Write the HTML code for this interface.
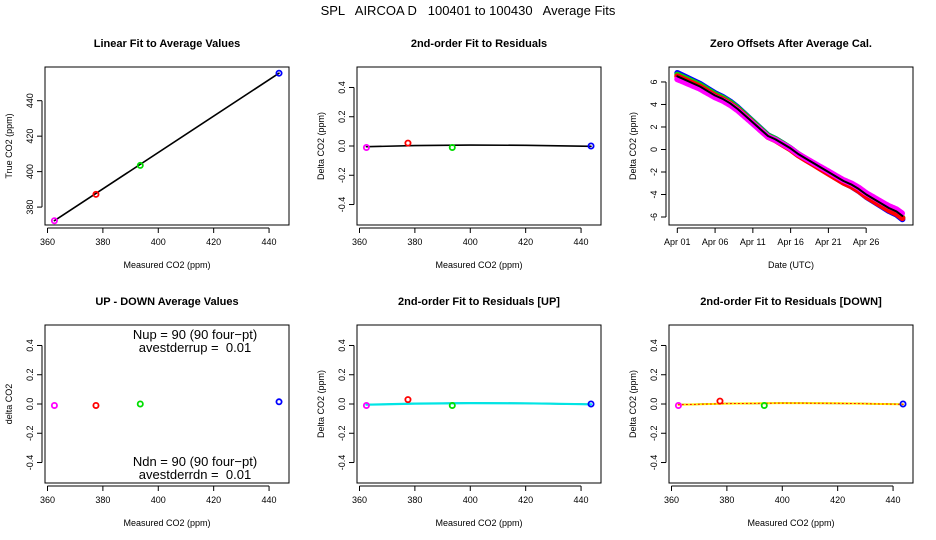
<!DOCTYPE html>
<html><head><meta charset="utf-8"><style>
html,body{margin:0;padding:0;background:#fff;}
svg{display:block;font-family:"Liberation Sans",Arial,sans-serif;}
text{white-space:pre;}
</style></head><body>
<svg id="c" width="936" height="540" viewBox="0 0 936 540">
<text x="468" y="15" text-anchor="middle" font-size="13">SPL   AIRCOA D   100401 to 100430   Average Fits</text>
</svg>
<script>
const co2Measured = [362.5, 377.5, 393.5, 443.6];
const co2True = [372.3, 387.2, 403.5, 455.5];
const residAll = [-0.01, 0.02, -0.01, 0.0];
const residUp = [-0.01, 0.03, -0.01, 0.0];
const residDown = [-0.01, 0.02, -0.01, 0.0];
const upDown = [-0.01, -0.01, 0.0, 0.015];
const pointColors = ['#ff00ff', '#ff0000', '#00dd00', '#0000ff'];
const fitX = [362.5, 380, 400, 420, 443.6];
const fitResid = [-0.005, 0.003, 0.006, 0.005, -0.002];
const co2Ticks = [360, 380, 400, 420, 440];
const trueTicks = [380, 400, 420, 440];
const residTicks = [-0.4, -0.2, 0.0, 0.2, 0.4];
const zeroTicks = [-6, -4, -2, 0, 2, 4, 6];
const dateTicks = [0, 5, 10, 15, 20, 25];
const dateLabels = ['Apr 01', 'Apr 06', 'Apr 11', 'Apr 16', 'Apr 21', 'Apr 26'];
const zeroDays = [0, 1, 2, 3, 4, 5, 6, 7, 8, 9, 10, 11, 12, 13, 14, 15, 16, 17, 18, 19, 20, 21, 22, 23, 24, 25, 26, 27, 28, 29, 29.8];
const zeroOffsets = [6.5, 6.2, 5.9, 5.6, 5.2, 4.8, 4.5, 4.1, 3.6, 3.0, 2.4, 1.8, 1.2, 0.9, 0.5, 0.1, -0.4, -0.8, -1.2, -1.6, -2.0, -2.4, -2.8, -3.1, -3.5, -4.0, -4.4, -4.8, -5.2, -5.5, -5.9];
const seriesNames = ['blue', 'green', 'red', 'magenta', 'black'];
const seriesColors = ['#0000ff', '#00dd00', '#ff0000', '#ff00ff', '#000000'];
const seriesStartShift = [0.3, 0.15, 0.0, -0.25, 0];
const seriesEndShift = [-0.3, -0.15, -0.2, 0.2, 0];

const NS = 'http://www.w3.org/2000/svg';
const svg = document.getElementById('c');
function mk(tag, attrs, parent) {
  const e = document.createElementNS(NS, tag);
  for (const k in attrs) e.setAttribute(k, attrs[k]);
  (parent || svg).appendChild(e);
  return e;
}
function panel(name, L, T, W, H, xmin, xmax, ymin, ymax, title, xlab, ylab) {
  const g = mk('g', {});
  
  
  const sx = v => L + (v - xmin) / (xmax - xmin) * W;
  const sy = v => T + H - (v - ymin) / (ymax - ymin) * H;
  const box = mk('rect', {x: L, y: T, width: W, height: H, fill: 'none', stroke: '#000', 'stroke-width': 1}, g);
  
  
  const t = mk('text', {x: L + W / 2, y: T - 20, 'text-anchor': 'middle', 'font-size': 11, 'font-weight': 'bold'}, g);
  t.textContent = title;
  
  
  const xl = mk('text', {x: L + W / 2, y: T + H + 43, 'text-anchor': 'middle', 'font-size': 9}, g);
  xl.textContent = xlab;
  
  
  const yl = mk('text', {x: 0, y: 0, 'text-anchor': 'middle', 'font-size': 9, transform: 'translate(' + (L - 33) + ',' + (T + H / 2) + ') rotate(-90)'}, g);
  yl.textContent = ylab;
  
  
  return {g, sx, sy, L, T, W, H};
}
function xaxis(p, ticks, labels, name) {
  const y0 = p.T + p.H + 3;
  const a = mk('g', {}, p.g);
  
  
  mk('line', {x1: p.sx(ticks[0]), x2: p.sx(ticks[ticks.length - 1]), y1: y0, y2: y0, stroke: '#000'}, a);
  ticks.forEach((v, i) => {
    mk('line', {x1: p.sx(v), x2: p.sx(v), y1: y0, y2: y0 + 5, stroke: '#000'}, a);
    const t = mk('text', {x: p.sx(v), y: y0 + 17, 'text-anchor': 'middle', 'font-size': 9}, a);
    t.textContent = labels ? labels[i] : String(v);
    
    
  });
}
function yaxis(p, ticks, fmt, name) {
  const x0 = p.L - 3;
  const a = mk('g', {}, p.g);
  
  
  mk('line', {x1: x0, x2: x0, y1: p.sy(ticks[0]), y2: p.sy(ticks[ticks.length - 1]), stroke: '#000'}, a);
  ticks.forEach(v => {
    mk('line', {x1: x0, x2: x0 - 5, y1: p.sy(v), y2: p.sy(v), stroke: '#000'}, a);
    const t = mk('text', {x: 0, y: 0, 'text-anchor': 'middle', 'font-size': 9, transform: 'translate(' + (x0 - 9) + ',' + p.sy(v) + ') rotate(-90)'}, a);
    t.textContent = fmt(v);
    
    
  });
}
function points(p, xs, ys, name) {
  xs.forEach((x, i) => {
    const c = mk('circle', {cx: p.sx(x), cy: p.sy(ys[i]), r: 2.6, fill: 'none', stroke: pointColors[i], 'stroke-width': 1.8}, p.g);
    
    
  });
}
function line(p, xs, ys, color, w, name, dash) {
  const d = xs.map((x, i) => (i ? 'L' : 'M') + p.sx(x).toFixed(1) + ',' + p.sy(ys[i]).toFixed(1)).join('');
  const a = {d: d, fill: 'none', stroke: color, 'stroke-width': w, 'stroke-linejoin': 'round', 'stroke-linecap': 'round'};
  if (dash) a['stroke-dasharray'] = dash;
  const e = mk('path', a, p.g);
  
  
}
const f1 = v => String(v);
const f2 = v => v.toFixed(1);
const XMIN = 359.1, XMAX = 447.2;
const cols = [45, 357, 669];

// Panel 1
let p = panel('linear-fit-panel', cols[0], 67, 244, 158, XMIN, XMAX, 369.9, 459, 'Linear Fit to Average Values', 'Measured CO2 (ppm)', 'True CO2 (ppm)');
xaxis(p, co2Ticks, null, 'x-axis'); yaxis(p, trueTicks, f1, 'y-axis');
line(p, [co2Measured[0], co2Measured[3]], [co2True[0], co2True[3]], '#000', 1.6, 'linear-fit-line');
points(p, co2Measured, co2True, 'calibration');

// Panel 2
p = panel('residual-fit-panel', cols[1], 67, 244, 158, XMIN, XMAX, -0.54, 0.54, '2nd-order Fit to Residuals', 'Measured CO2 (ppm)', 'Delta CO2 (ppm)');
xaxis(p, co2Ticks, null, 'x-axis'); yaxis(p, residTicks, f2, 'y-axis');
line(p, fitX, fitResid, '#000', 1.6, 'residual-fit-line');
points(p, co2Measured, residAll, 'residual');

// Panel 3
p = panel('zero-offsets-panel', cols[2], 67, 244, 158, -1.1, 31.2, -6.71, 7.33, 'Zero Offsets After Average Cal.', 'Date (UTC)', 'Delta CO2 (ppm)');
xaxis(p, dateTicks, dateLabels, 'date-axis'); yaxis(p, zeroTicks, f1, 'y-axis');
seriesNames.forEach((n, s) => {
  const n1 = zeroDays.length - 1;
  const ys = zeroOffsets.map((v, i) => v + seriesStartShift[s] * (1 - i / n1) + seriesEndShift[s] * (i / n1));
  line(p, zeroDays, ys, seriesColors[s], s === 4 ? 2 : 6, 'zero-offset-' + n + '-series', s === 3 ? '3 1' : null);
});

// Panel 4
p = panel('up-down-panel', cols[0], 325, 244, 158, XMIN, XMAX, -0.54, 0.54, 'UP - DOWN Average Values', 'Measured CO2 (ppm)', 'delta CO2');
xaxis(p, co2Ticks, null, 'x-axis'); yaxis(p, residTicks, f2, 'y-axis');
points(p, co2Measured, upDown, 'up-down');
[['Nup = 90 (90 four\u2212pt)', 339], ['avestderrup =  0.01', 352], ['Ndn = 90 (90 four\u2212pt)', 466], ['avestderrdn =  0.01', 479]].forEach((a, i) => {
  const t = mk('text', {x: 195, y: a[1], 'text-anchor': 'middle', 'font-size': 13}, p.g);
  t.textContent = a[0];
  
  
});

// Panel 5
p = panel('residual-up-panel', cols[1], 325, 244, 158, XMIN, XMAX, -0.54, 0.54, '2nd-order Fit to Residuals [UP]', 'Measured CO2 (ppm)', 'Delta CO2 (ppm)');
xaxis(p, co2Ticks, null, 'x-axis'); yaxis(p, residTicks, f2, 'y-axis');
line(p, fitX, fitResid, '#000', 1.6, 'residual-fit-line');
line(p, fitX, fitResid, '#00e5e5', 2.2, 'up-fit-line');
points(p, co2Measured, residUp, 'residual-up');

// Panel 6
p = panel('residual-down-panel', cols[2], 325, 244, 158, XMIN, XMAX, -0.54, 0.54, '2nd-order Fit to Residuals [DOWN]', 'Measured CO2 (ppm)', 'Delta CO2 (ppm)');
xaxis(p, co2Ticks, null, 'x-axis'); yaxis(p, residTicks, f2, 'y-axis');
line(p, fitX, fitResid, '#000', 1.6, 'residual-fit-line');
line(p, fitX, fitResid, '#ffee00', 2, 'down-fit-line');
line(p, fitX, fitResid, '#ff0000', 1, 'down-fit-dotted-line', '1 3');
points(p, co2Measured, residDown, 'residual-down');
</script>
</body></html>
